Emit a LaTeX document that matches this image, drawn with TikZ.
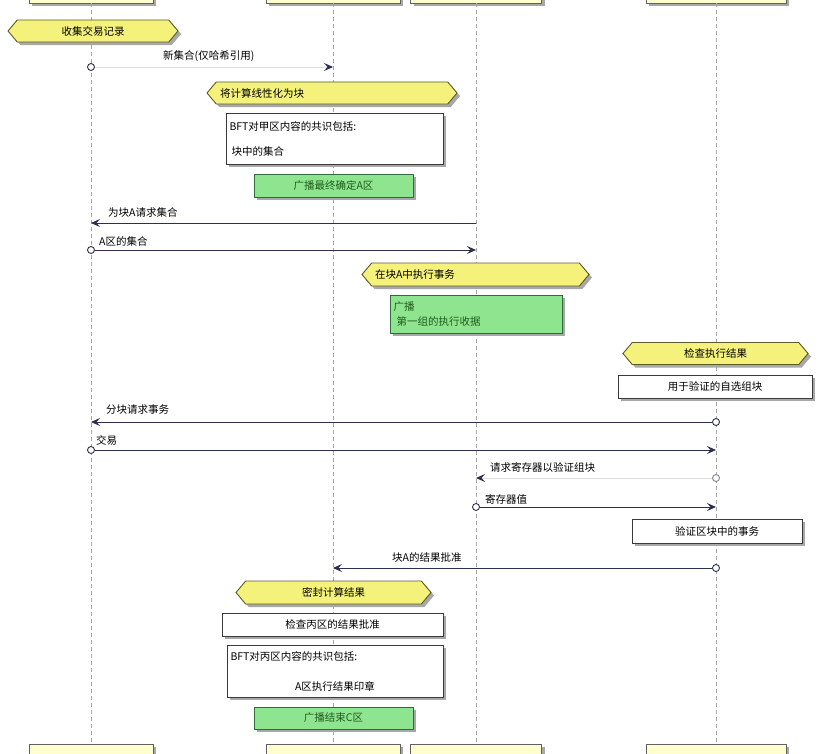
\documentclass[tikz,border=0pt]{standalone}
\usepackage{fontspec}
\setmainfont{Noto Sans CJK SC}
\usetikzlibrary{shapes.symbols,shadows,arrows.meta}

\definecolor{hexfill}{HTML}{F4F27A}
\definecolor{hexline}{HTML}{5C5A2A}
\definecolor{notefill}{HTML}{FFFFFF}
\definecolor{noteline}{HTML}{3A3A3A}
\definecolor{grnfill}{HTML}{8FE58F}
\definecolor{grnline}{HTML}{2F6B3A}
\definecolor{grntext}{HTML}{1E5A1E}
\definecolor{partfill}{HTML}{FEFECE}
\definecolor{msgline}{HTML}{2C3050}
\definecolor{shadecol}{HTML}{A8A8A8}

\tikzset{
  dropshade/.style={drop shadow={fill=shadecol,opacity=1,shadow xshift=3pt,shadow yshift=-3pt}},
  hexbox/.style={signal,signal to=east and west,signal pointer angle=100,
    draw=hexline,line width=0.9pt,fill=hexfill,dropshade,inner xsep=2pt,inner ysep=0pt,
    minimum height=22pt,font=\fontsize{10.5}{12}\selectfont},
  notebox/.style={rectangle,draw=noteline,line width=0.8pt,fill=notefill,dropshade,
    inner sep=3pt,font=\fontsize{10.5}{12}\selectfont},
  grnbox/.style={rectangle,draw=grnline,line width=0.8pt,fill=grnfill,dropshade,
    inner sep=3pt,text=grntext,font=\fontsize{10.5}{12}\selectfont},
  partbox/.style={rectangle,draw=noteline!80,line width=0.8pt,fill=partfill,dropshade,
    minimum height=28pt},
  life/.style={draw=gray!70,line width=0.6pt,dash pattern=on 4pt off 3pt},
  msg/.style={draw=msgline,line width=0.9pt,-{Stealth[length=9pt,width=8pt,inset=3.5pt]}},
  faint/.style={draw=gray!25,line width=0.9pt,
    -{Stealth[length=9pt,width=8pt,inset=3.5pt,color=msgline]}},
  dot/.style={circle,draw=msgline,line width=0.9pt,fill=white,inner sep=0pt,minimum size=7pt},
  lbl/.style={anchor=west,inner sep=0pt,font=\fontsize{10.5}{12}\selectfont}
}

\begin{document}
\begin{tikzpicture}[x=1pt,y=-1pt]

  \useasboundingbox (0,0) rectangle (829,753);
  \clip (0,0) rectangle (829,753);

  % Participants (top and bottom)
  \node[partbox,minimum width=124pt] (p1) at (91,-11) {};
  \node[partbox,minimum width=134pt] (p2) at (333,-11) {};
  \node[partbox,minimum width=131pt] (p3) at (476,-11) {};
  \node[partbox,minimum width=140pt] (p4) at (716,-11) {};
  \node[partbox,minimum width=124pt] (q1) at (91,758) {};
  \node[partbox,minimum width=134pt] (q2) at (333,758) {};
  \node[partbox,minimum width=131pt] (q3) at (476,758) {};
  \node[partbox,minimum width=140pt] (q4) at (716,758) {};

  % Lifelines
  \draw[life] (p1.south) -- (q1.north);
  \draw[life] (p2.south) -- (q2.north);
  \draw[life] (p3.south) -- (q3.north);
  \draw[life] (p4.south) -- (q4.north);

  % Collect transactions
  \node[hexbox,minimum width=170pt,text width=120pt,align=center] (collect) at (93,31) {收集交易记录};

  \node[dot] (c1) at (91,67) {};
  \coordinate (e1) at (333,67);
  \draw[faint] (c1) -- (e1);
  \node[lbl] (l1) at (163,56) {新集合(仅哈希引用)};

  % Linearize into a block
  \node[hexbox,minimum width=250pt,text width=224pt,align=left] (linear) at (332,93) {将计算线性化为块};
  \node[notebox,minimum width=217pt,minimum height=51pt,text width=210pt,align=left] (bftA) at (334.5,138.5)
    {BFT对甲区内容的共识包括:\\[13pt]\hspace*{2pt}块中的集合};
  \node[grnbox,minimum width=159pt,minimum height=23pt] (finalA) at (333.5,185.5) {广播最终确定A区};

  \coordinate (s2) at (476,223);
  \coordinate (e2) at (91,223);
  \draw[msg] (s2) -- (e2);
  \node[lbl] (l2) at (108,212) {为块A请求集合};

  \node[dot] (c3) at (91,250) {};
  \coordinate (e3) at (476,250);
  \draw[msg] (c3) -- (e3);
  \node[lbl] (l3) at (99,241) {A区的集合};

  % Execute transactions
  \node[hexbox,minimum width=227pt,minimum height=23pt,text width=201pt,align=left] (exec) at (475.5,274.5) {在块A中执行事务};
  \node[grnbox,minimum width=172pt,minimum height=38pt,text width=165pt,align=left] (receipt) at (476,314)
    {广播\\[3pt]\hspace*{3pt}第一组的执行收据};

  % Check results
  \node[hexbox,minimum width=185pt,text width=150pt,align=center] (check) at (715.5,353.5) {检查执行结果};
  \node[notebox,minimum width=194pt,minimum height=23pt] (pick) at (715,386.5) {用于验证的自选组块};

  \node[dot] (c4) at (716,422) {};
  \coordinate (e4) at (91,422);
  \draw[msg] (c4) -- (e4);
  \node[lbl] (l4) at (106,410) {分块请求事务};

  \node[dot] (c5) at (91,450) {};
  \coordinate (e5) at (716,450);
  \draw[msg] (c5) -- (e5);
  \node[lbl] (l5) at (96,440) {交易};

  \node[dot,draw=msgline!60] (c6) at (716,478) {};
  \coordinate (e6) at (476,478);
  \draw[faint] (c6) -- (e6);
  \node[lbl] (l6) at (490,467) {请求寄存器以验证组块};

  \node[dot] (c7) at (476,507) {};
  \coordinate (e7) at (716,507);
  \draw[msg] (c7) -- (e7);
  \node[lbl] (l7) at (485,499) {寄存器值};

  \node[notebox,minimum width=170pt,minimum height=24pt] (verify) at (717,531) {验证区块中的事务};

  \node[dot] (c8) at (716,568) {};
  \coordinate (e8) at (333,568);
  \draw[msg] (c8) -- (e8);
  \node[lbl] (l8) at (392,557) {块A的结果批准};

  % Seal results
  \node[hexbox,minimum width=195pt,minimum height=23pt,text width=160pt,align=center] (seal) at (333.5,592.5) {密封计算结果};
  \node[notebox,minimum width=221pt,minimum height=23pt] (approve) at (332.5,624.5) {检查丙区的结果批准};
  \node[notebox,minimum width=216pt,minimum height=52pt,text width=209pt,align=left] (bftC) at (335,671)
    {BFT对丙区内容的共识包括:\\[18pt]\makebox[209pt][c]{A区执行结果印章}};
  \node[grnbox,minimum width=159pt,minimum height=22pt] (endC) at (333.5,718) {广播结束C区};

\end{tikzpicture}
\end{document}
